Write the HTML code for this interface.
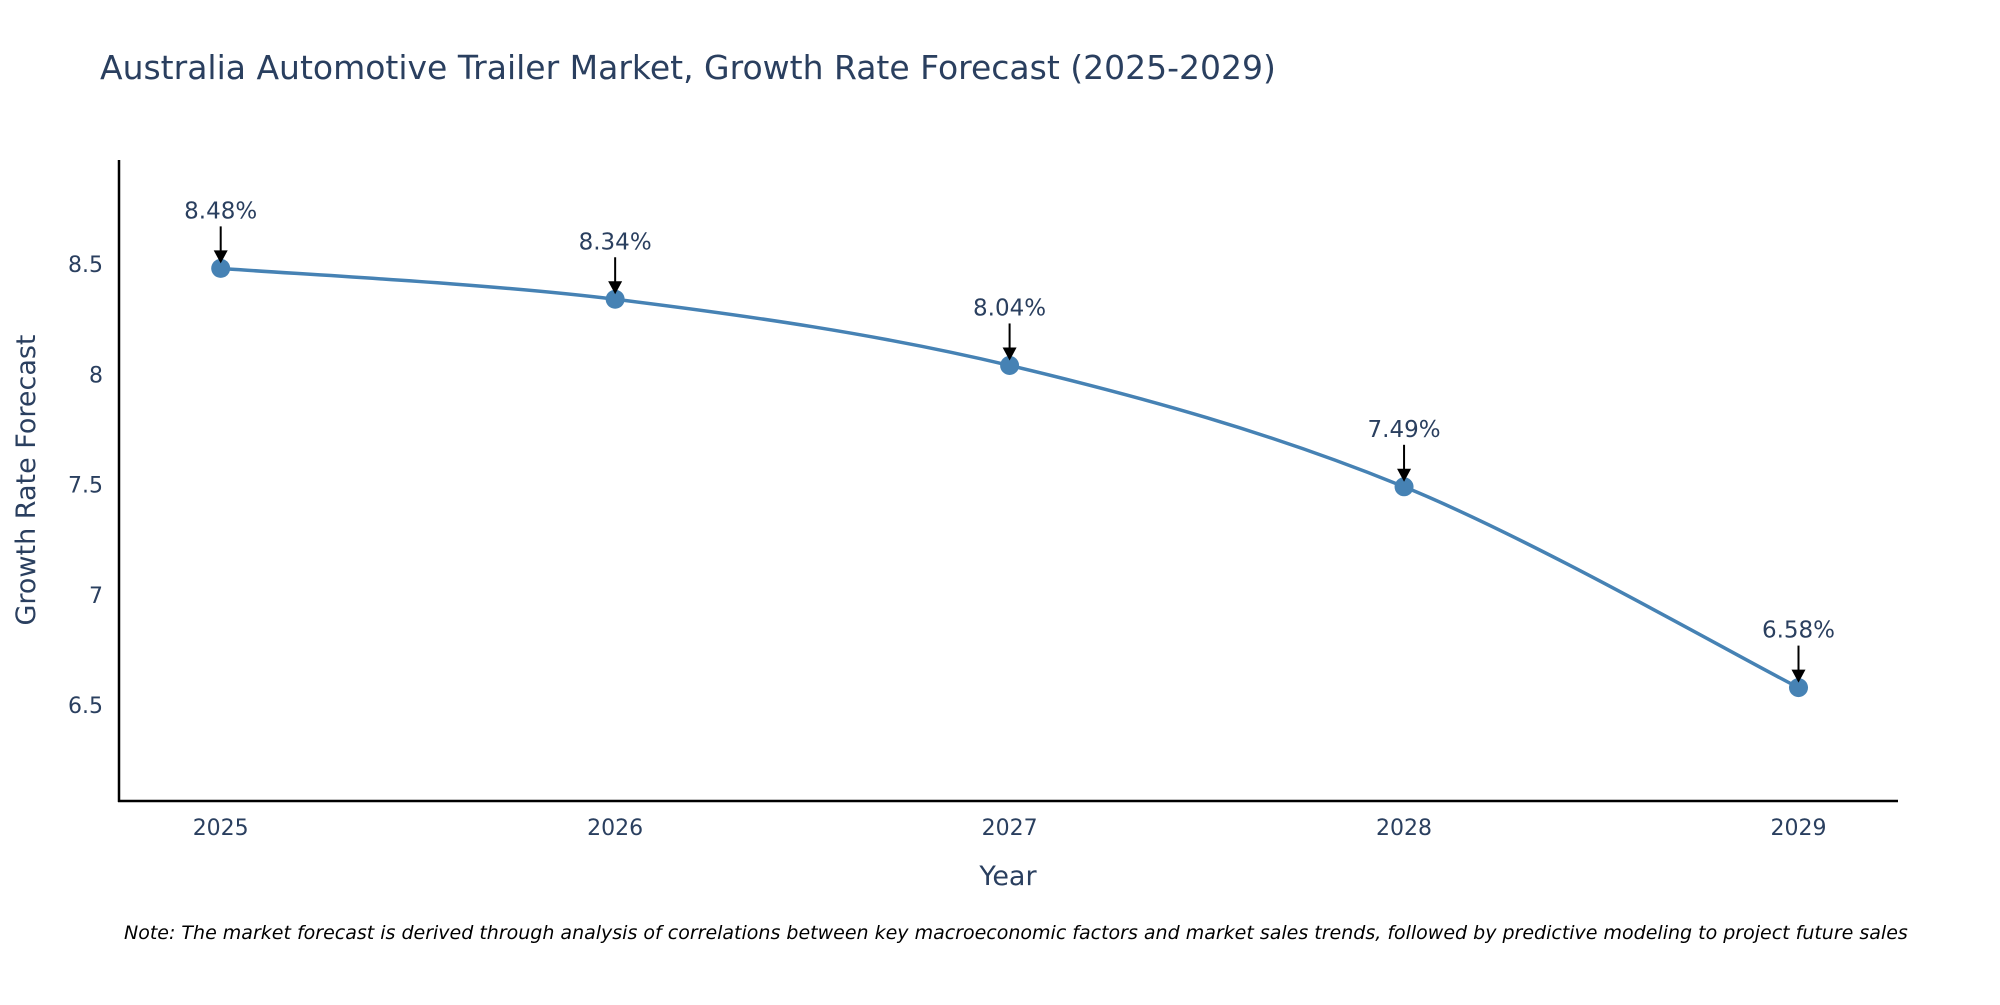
<!DOCTYPE html>
<html><head><meta charset="utf-8"><style>
body{margin:0;background:#fff;}
svg text{font-family:"DejaVu Sans","Liberation Sans",sans-serif;fill:#2a3f5f;}
</style></head><body>
<svg width="2000" height="1000" xmlns="http://www.w3.org/2000/svg">
<text x="100" y="79" font-size="33">Australia Automotive Trailer Market, Growth Rate Forecast (2025-2029)</text>
<g id="yticks"></g><g id="xticks"></g>
<line x1="119" y1="160" x2="119" y2="802" stroke="#000" stroke-width="2.5"/>
<line x1="118" y1="801" x2="1898" y2="801" stroke="#000" stroke-width="2.5"/>
<path id="line" fill="none" stroke="#4682b4" stroke-width="3.5"/>
<g id="marks"></g>
<text x="1008" y="885" font-size="27" text-anchor="middle">Year</text>
<text transform="translate(35,480) rotate(-90)" font-size="27" text-anchor="middle">Growth Rate Forecast</text>
<text x="124" y="939" font-size="19" font-style="italic" style="fill:#000">Note: The market forecast is derived through analysis of correlations between key macroeconomic factors and market sales trends, followed by predictive modeling to project future sales</text>
</svg>
<script>
const years=[2025,2026,2027,2028,2029];
const values=[8.48,8.34,8.04,7.49,6.58];
const labels=["8.48%","8.34%","8.04%","7.49%","6.58%"];
const yTicks=[6.5,7,7.5,8,8.5];
const yTickLabels=["6.5","7","7.5","8","8.5"];
const NS="http://www.w3.org/2000/svg";
const xs=v=>220.7+(v-2025)*(1798.5-220.7)/4;
const ys=v=>801-(v-6.066)*(801-160.7)/(8.968-6.066);
function mk(t,a,p){const e=document.createElementNS(NS,t);for(const k in a)e.setAttribute(k,a[k]);p.appendChild(e);return e;}
const yt=document.getElementById('yticks');
yTicks.forEach((v,i)=>{const t=mk('text',{x:103,y:ys(v)+8,'font-size':22,'text-anchor':'end'},yt);


t.textContent=yTickLabels[i];});
const xt=document.getElementById('xticks');
years.forEach(v=>{const t=mk('text',{x:xs(v),y:835,'font-size':22,'text-anchor':'middle'},xt);


t.textContent=v;});
const P=years.map((y,i)=>[xs(y),ys(values[i])]);
let d=`M${P[0][0]},${P[0][1]}`;
for(let i=0;i<P.length-1;i++){const p0=P[Math.max(i-1,0)],p1=P[i],p2=P[i+1],p3=P[Math.min(i+2,P.length-1)];const k=1/6;
d+=` C${p1[0]+(p2[0]-p0[0])*k},${p1[1]+(p2[1]-p0[1])*k} ${p2[0]-(p3[0]-p1[0])*k},${p2[1]-(p3[1]-p1[1])*k} ${p2[0]},${p2[1]}`;}
document.getElementById('line').setAttribute('d',d);
const m=document.getElementById('marks');
P.forEach((p,i)=>{const c=mk('circle',{cx:p[0],cy:p[1],r:9.5,fill:'#4682b4'},m);


const l=mk('line',{x1:p[0],y1:p[1]-42,x2:p[0],y2:p[1]-16,stroke:'#000','stroke-width':2},m);


const h=mk('polygon',{points:`${p[0]-7},${p[1]-18} ${p[0]+7},${p[1]-18} ${p[0]},${p[1]-5}`,fill:'#000'},m);


const t=mk('text',{x:p[0],y:p[1]-50,'font-size':23,'text-anchor':'middle'},m);


t.textContent=labels[i];});
</script>
</body></html>
